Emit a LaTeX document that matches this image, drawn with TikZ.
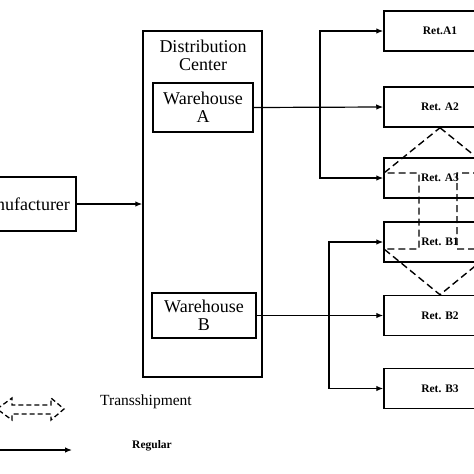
\documentclass[tikz,border=0pt]{standalone}
\usepackage{fontspec}
\setmainfont{Liberation Serif}
\usetikzlibrary{arrows.meta}
\begin{document}
\begin{tikzpicture}[x=1pt,y=-1pt,
 box/.style={draw,line width=1.5pt,inner sep=0pt,fill=white},
 ret/.style={box,minimum width=112pt,minimum height=40pt,font=\fontsize{11.5}{12}\selectfont\bfseries},
 big/.style={font=\fontsize{18}{18}\selectfont,align=center},
 conn/.style={line width=1.2pt,-{Latex[length=7pt,width=5.5pt]}},
 trans/.style={draw,line width=1.4pt,dash pattern=on 7pt off 4pt,line join=miter}]
\useasboundingbox (0,0) rectangle (474,474);
\clip (0,0) rectangle (474,474);
% boxes
\node[box,big,minimum width=110pt,minimum height=54pt] (manu) at (21,204) {Manufacturer};
\node[box,minimum width=119pt,minimum height=346pt] (dc) at (202.5,204) {};
\node[big,anchor=center] (dctitle) at (203,55) {Distribution\\Center};
\node[box,big,minimum width=100pt,minimum height=49pt] (wa) at (203,107.5) {Warehouse\\A};
\node[box,big,minimum width=104pt,minimum height=45pt] (wb) at (204,315.5) {Warehouse\\B};
\node[ret] (a1) at (440,31) {Ret.A1};
\node[ret] (a2) at (440,107) {Ret. A2};
\node[ret] (a3) at (440,178) {Ret. A3};
\node[ret] (b1) at (440,242) {Ret. B1};
\node[ret] (b2) at (440,315.5) {Ret. B2};
\node[ret] (b3) at (440,388.5) {Ret. B3};
% connectors
\draw[conn] (manu.east) -- (manu.east -| dc.west);
\coordinate (ta) at (320,107);
\coordinate (tb) at (329,315.5);
\draw[conn] (wa.east) -- (a2.west);
\draw[conn] (ta) |- (a1.west);
\draw[conn] (ta) |- (a3.west);
\draw[conn] (wb.east) -- (b2.west);
\draw[conn] (tb) |- (b1.west);
\draw[conn] (tb) |- (b3.west);
% transshipment double arrow
\draw[trans] (a2.south) -- (496,173) -- (457,173) -- (457,249) -- (496,249) -- (b2.north)
  -- (384,249) -- (419,249) -- (419,173) -- (384,173) -- cycle;
% legend
\draw[line width=1.3pt,dash pattern=on 5pt off 3pt,line join=miter]
  (-3,409) -- (12,398) -- (12,405) -- (51,405) -- (51,398) -- (64,409) -- (51,420)
  -- (51,414) -- (12,414) -- (12,420) -- cycle;
\node[font=\fontsize{15.5}{16}\selectfont] (tl) at (146,402) {Transshipment};
\draw[conn] (-5,450) -- (72,450);
\node[font=\fontsize{11.5}{12}\selectfont\bfseries] (rl) at (152,446) {Regular};
\end{tikzpicture}
\end{document}
